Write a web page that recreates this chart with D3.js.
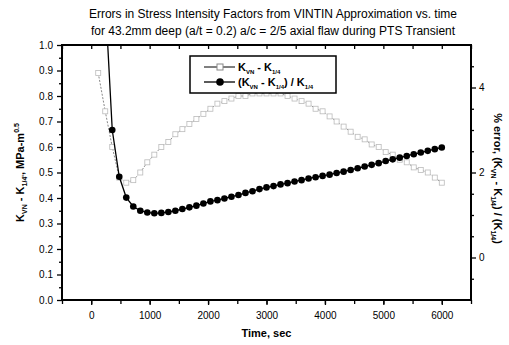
<!DOCTYPE html>
<html>
<head>
<meta charset="utf-8">
<script src="https://cdn.jsdelivr.net/npm/d3@7"></script>
<style>
  body { margin: 0; background: #fff; }
  svg { display: block; font-family: Arial, "Liberation Sans", sans-serif; }
</style>
</head>
<body>
<div id="chart"></div>
<script>
/* DATA */
const titleLines = [
  "Errors in Stress Intensity Factors from VINTIN Approximation vs. time",
  "for 43.2mm deep (a/t = 0.2) a/c = 2/5 axial flaw during PTS Transient"
];

// time, sec (open squares, left axis)
const sqTime = [120, 240, 360, 480, 600, 720, 840, 960, 1080, 1200, 1320, 1440, 1560, 1680, 1800, 1920,
  2040, 2160, 2280, 2400, 2520, 2640, 2760, 2880, 3000, 3120, 3240, 3360, 3480, 3600, 3720, 3840,
  3960, 4080, 4200, 4320, 4440, 4560, 4680, 4800, 4920, 5040, 5160, 5280, 5400, 5520, 5640, 5760, 5880, 6000];
// K_VN - K_1/4, MPa-m^0.5
const sqDiff = [0.89, 0.74, 0.60, 0.48, 0.46, 0.47, 0.50, 0.54, 0.57, 0.60, 0.62, 0.65, 0.67, 0.69, 0.71, 0.73,
  0.75, 0.77, 0.78, 0.79, 0.80, 0.80, 0.81, 0.81, 0.81, 0.81, 0.81, 0.80, 0.79, 0.78, 0.77, 0.75,
  0.74, 0.72, 0.70, 0.68, 0.66, 0.64, 0.63, 0.61, 0.60, 0.58, 0.57, 0.55, 0.54, 0.52, 0.51, 0.50, 0.48, 0.46];

// time, sec (filled circles, right axis)
const ciTime = [240, 360, 480, 600, 720, 840, 960, 1080, 1200, 1320, 1440, 1560, 1680, 1800, 1920,
  2040, 2160, 2280, 2400, 2520, 2640, 2760, 2880, 3000, 3120, 3240, 3360, 3480, 3600, 3720, 3840,
  3960, 4080, 4200, 4320, 4440, 4560, 4680, 4800, 4920, 5040, 5160, 5280, 5400, 5520, 5640, 5760, 5880, 6000];
// % error
const ciPct = [6.1, 3.0, 1.90, 1.41, 1.20, 1.10, 1.06, 1.04, 1.05, 1.07, 1.10, 1.14, 1.18, 1.22, 1.27,
  1.32, 1.35, 1.39, 1.43, 1.47, 1.52, 1.56, 1.61, 1.65, 1.68, 1.72, 1.75, 1.79, 1.82, 1.86, 1.89,
  1.92, 1.95, 1.99, 2.02, 2.06, 2.10, 2.14, 2.18, 2.22, 2.27, 2.31, 2.35, 2.39, 2.43, 2.47, 2.51, 2.55, 2.59];

const xTicks = [0, 1000, 2000, 3000, 4000, 5000, 6000];
const xMinor = [-500, 0, 500, 1000, 1500, 2000, 2500, 3000, 3500, 4000, 4500, 5000, 5500, 6000, 6500];
const yTicks = [0, 0.1, 0.2, 0.3, 0.4, 0.5, 0.6, 0.7, 0.8, 0.9, 1.0];
const yMinor = [0.05, 0.15, 0.25, 0.35, 0.45, 0.55, 0.65, 0.75, 0.85, 0.95];
const y2Ticks = [0, 2, 4];
const y2Minor = [-0.5, 0.5, 1, 1.5, 2.5, 3, 3.5, 4.5];

/* CONSTANTS */
const width = 509, height = 345;
const margin = { top: 45, bottom: 45, left: 62, right: 38 };

const svg = d3.select("#chart").append("svg")
  .attr("width", width)
  .attr("height", height);

const xScale = d3.scaleLinear().domain([-500, 6500]).range([margin.left, width - margin.right]);
const yScale = d3.scaleLinear().domain([0, 1]).range([height - margin.bottom, margin.top]);
const y2Scale = d3.scaleLinear().domain([-1, 5]).range([height - margin.bottom, margin.top]);

// title
svg.append("g").selectAll("text")
  .data(titleLines)
  .join("text")
  .attr("x", 273)
  .attr("y", (d, i) => 18 + i * 17)
  .attr("text-anchor", "middle")
  .attr("font-size", 12)
  .text(d => d);

// clip
svg.append("clipPath").attr("id", "plotclip")
  .append("rect")
  .attr("x", margin.left).attr("y", margin.top)
  .attr("width", width - margin.left - margin.right)
  .attr("height", height - margin.top - margin.bottom);

// axes
const bottomY = height - margin.bottom;
svg.append("g")
  .attr("transform", `translate(0,${bottomY})`)
  .call(d3.axisBottom(xScale).tickValues(xMinor).tickSize(4).tickFormat(""))
  .call(g => g.select(".domain").remove());
svg.append("g")
  .attr("transform", `translate(0,${bottomY})`)
  .call(d3.axisBottom(xScale).tickValues(xTicks).tickSize(5).tickPadding(7).tickFormat(d3.format("d")))
  .call(g => g.select(".domain").remove())
  .attr("font-size", 10);
svg.append("g")
  .attr("transform", `translate(0,${margin.top})`)
  .call(d3.axisBottom(xScale).tickValues(xMinor).tickSize(4).tickFormat(""))
  .call(g => g.select(".domain").remove());

svg.append("g")
  .attr("transform", `translate(${margin.left},0)`)
  .call(d3.axisLeft(yScale).tickValues(yMinor).tickSize(3).tickFormat(""))
  .call(g => g.select(".domain").remove());
svg.append("g")
  .attr("transform", `translate(${margin.left},0)`)
  .call(d3.axisLeft(yScale).tickValues(yTicks).tickSize(5).tickPadding(4).tickFormat(d3.format(".1f")))
  .call(g => g.select(".domain").remove())
  .attr("font-size", 10);

const rightX = width - margin.right;
svg.append("g")
  .attr("transform", `translate(${rightX},0)`)
  .call(d3.axisRight(y2Scale).tickValues(y2Minor).tickSize(3).tickFormat(""))
  .call(g => g.select(".domain").remove());
svg.append("g")
  .attr("transform", `translate(${rightX},0)`)
  .call(d3.axisRight(y2Scale).tickValues(y2Ticks).tickSize(5).tickPadding(3).tickFormat(d3.format("d")))
  .call(g => g.select(".domain").remove())
  .attr("font-size", 10);

svg.selectAll(".tick line").attr("stroke-width", 1.3);

// frame
svg.append("rect")
  .attr("x", margin.left).attr("y", margin.top)
  .attr("width", rightX - margin.left)
  .attr("height", bottomY - margin.top)
  .attr("fill", "none")
  .attr("stroke", "black")
  .attr("stroke-width", 2);

// axis titles
svg.append("text")
  .attr("x", xScale(3000)).attr("y", 337)
  .attr("text-anchor", "middle")
  .attr("font-size", 11)
  .attr("font-weight", "bold")
  .text("Time, sec");

const yl = svg.append("text")
  .attr("transform", `translate(24,${(margin.top + bottomY) / 2}) rotate(-90)`)
  .attr("text-anchor", "middle")
  .attr("font-size", 11)
  .attr("font-weight", "bold");
yl.append("tspan").text("K");
yl.append("tspan").attr("font-size", 7).attr("dy", 3).text("VN");
yl.append("tspan").attr("dy", -3).text(" - K");
yl.append("tspan").attr("font-size", 7).attr("dy", 3).text("1/4'");
yl.append("tspan").attr("dy", -3).text(", MPa-m");
yl.append("tspan").attr("font-size", 7).attr("dy", -5).text("0.5");

const yr = svg.append("text")
  .attr("transform", `translate(494,${(margin.top + bottomY) / 2 + 6}) rotate(90)`)
  .attr("text-anchor", "middle")
  .attr("font-size", 11)
  .attr("font-weight", "bold");
yr.append("tspan").text("% error, (K");
yr.append("tspan").attr("font-size", 7).attr("dy", 3).text("VN");
yr.append("tspan").attr("dy", -3).text(" - K");
yr.append("tspan").attr("font-size", 7).attr("dy", 3).text("1/4");
yr.append("tspan").attr("dy", -3).text(") / (K");
yr.append("tspan").attr("font-size", 7).attr("dy", 3).text("1/4");
yr.append("tspan").attr("dy", -3).text(")");

// series
const sqData = sqTime.map((t, i) => ({ t, v: sqDiff[i] }));
const ciData = ciTime.map((t, i) => ({ t, v: ciPct[i] }));

const plot = svg.append("g").attr("clip-path", "url(#plotclip)");

plot.append("path")
  .datum(sqData)
  .attr("fill", "none")
  .attr("stroke", "#888")
  .attr("stroke-width", 1)
  .attr("stroke-dasharray", "2,1.5")
  .attr("d", d3.line().x(d => xScale(d.t)).y(d => yScale(d.v)));

plot.selectAll("rect.sq")
  .data(sqData)
  .join("rect")
  .attr("class", "sq")
  .attr("x", d => xScale(d.t) - 2.5)
  .attr("y", d => yScale(d.v) - 2.5)
  .attr("width", 5).attr("height", 5)
  .attr("fill", "white")
  .attr("stroke", "#bbb")
  .attr("stroke-width", 0.8);

plot.append("path")
  .datum(ciData)
  .attr("fill", "none")
  .attr("stroke", "black")
  .attr("stroke-width", 1.3)
  .attr("d", d3.line().x(d => xScale(d.t)).y(d => y2Scale(d.v)));

plot.selectAll("circle.ci")
  .data(ciData)
  .join("circle")
  .attr("class", "ci")
  .attr("cx", d => xScale(d.t))
  .attr("cy", d => y2Scale(d.v))
  .attr("r", 3.3)
  .attr("fill", "black");

// legend
const lg = svg.append("g").attr("transform", "translate(190,56)");
lg.append("rect")
  .attr("width", 146).attr("height", 37)
  .attr("fill", "white")
  .attr("stroke", "black")
  .attr("stroke-width", 1.5);

const row1 = lg.append("g").attr("transform", "translate(0,11)");
row1.append("line").attr("x1", 14).attr("x2", 45).attr("stroke", "black").attr("stroke-width", 1);
row1.append("rect").attr("x", 27).attr("y", -3).attr("width", 6).attr("height", 6)
  .attr("fill", "white").attr("stroke", "#888");
const t1 = row1.append("text").attr("x", 48).attr("y", 4)
  .attr("font-size", 11).attr("font-weight", "bold");
t1.append("tspan").text("K");
t1.append("tspan").attr("font-size", 6).attr("dy", 3).text("VN");
t1.append("tspan").attr("dy", -3).text(" - K");
t1.append("tspan").attr("font-size", 6).attr("dy", 3).text("1/4");

const row2 = lg.append("g").attr("transform", "translate(0,26)");
row2.append("line").attr("x1", 14).attr("x2", 45).attr("stroke", "black").attr("stroke-width", 1.3);
row2.append("circle").attr("cx", 30).attr("r", 3.8).attr("fill", "black");
const t2 = row2.append("text").attr("x", 48).attr("y", 4)
  .attr("font-size", 11).attr("font-weight", "bold");
t2.append("tspan").text("(K");
t2.append("tspan").attr("font-size", 6).attr("dy", 3).text("VN");
t2.append("tspan").attr("dy", -3).text(" - K");
t2.append("tspan").attr("font-size", 6).attr("dy", 3).text("1/4");
t2.append("tspan").attr("dy", -3).text(") / K");
t2.append("tspan").attr("font-size", 6).attr("dy", 3).text("1/4");
</script>
</body>
</html>
